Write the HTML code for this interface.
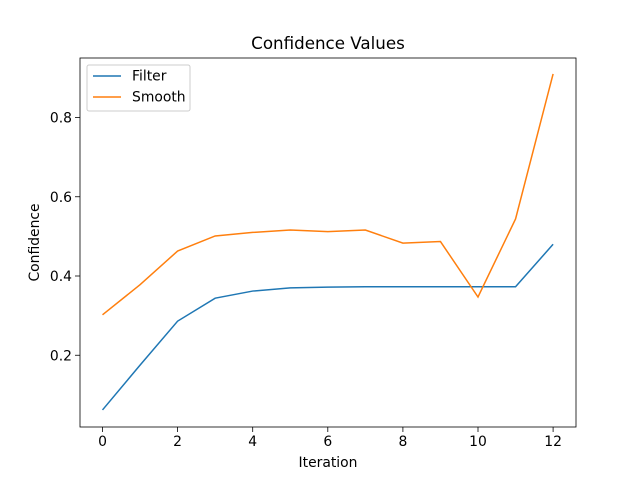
<!DOCTYPE html>
<html><head><meta charset="utf-8"><style>
body{margin:0;background:#fff;}
svg text{font-family:"DejaVu Sans","Liberation Sans",sans-serif;fill:#000;}
</style></head><body>
<svg id="chart" width="640" height="480" xmlns="http://www.w3.org/2000/svg">
<rect width="640" height="480" fill="#fff"/>
<text x="328" y="49" font-size="16.7" text-anchor="middle">Confidence Values</text>
<text x="328" y="467" font-size="13.9" text-anchor="middle">Iteration</text>
<text x="0" y="0" font-size="13.9" text-anchor="middle" transform="translate(39,242.5) rotate(-90)">Confidence</text>
<g id="ticks"></g>
<g id="lines"></g>
<rect x="80" y="58" width="496" height="369" fill="none" stroke="#000" stroke-width="0.8"/>
<g>
<rect x="87" y="65" width="103" height="46" rx="2" fill="#fff" fill-opacity="0.8" stroke="#ccc" stroke-width="1"/>
<line x1="93" y1="76" x2="121" y2="76" stroke="#1f77b4" stroke-width="1.5"/>
<text x="132" y="80.5" font-size="13.9">Filter</text>
<line x1="93" y1="97" x2="121" y2="97" stroke="#ff7f0e" stroke-width="1.5"/>
<text x="132" y="101.5" font-size="13.9">Smooth</text>
</g>
</svg>
<script>
const iterations=[0,1,2,3,4,5,6,7,8,9,10,11,12];
const filterValues=[0.062,0.175,0.286,0.344,0.362,0.37,0.372,0.373,0.373,0.373,0.373,0.373,0.48];
const smoothValues=[0.302,0.378,0.463,0.501,0.51,0.516,0.512,0.516,0.483,0.487,0.347,0.544,0.91];
const xTicks=[0,2,4,6,8,10,12];
const yTicks=[0.2,0.4,0.6,0.8];
const NS="http://www.w3.org/2000/svg";
function xs(v){return 102.5+v*37.55;}
function ys(v){return 434.5-v*396.25;}
const tg=document.getElementById('ticks');
xTicks.forEach(t=>{
 const l=document.createElementNS(NS,'line');
 l.setAttribute('x1',xs(t));l.setAttribute('x2',xs(t));l.setAttribute('y1',427);l.setAttribute('y2',432);
 l.setAttribute('stroke','#000');l.setAttribute('stroke-width','0.8');
 
 
 tg.appendChild(l);
 const tx=document.createElementNS(NS,'text');
 tx.setAttribute('x',xs(t));tx.setAttribute('y',446);tx.setAttribute('font-size','13.9');tx.setAttribute('text-anchor','middle');
 tx.textContent=t;
 
 
 tg.appendChild(tx);
});
yTicks.forEach(t=>{
 const l=document.createElementNS(NS,'line');
 l.setAttribute('x1',75);l.setAttribute('x2',80);l.setAttribute('y1',ys(t));l.setAttribute('y2',ys(t));
 l.setAttribute('stroke','#000');l.setAttribute('stroke-width','0.8');
 
 
 tg.appendChild(l);
 const tx=document.createElementNS(NS,'text');
 tx.setAttribute('x',72);tx.setAttribute('y',ys(t)+5);tx.setAttribute('font-size','13.9');tx.setAttribute('text-anchor','end');
 tx.textContent=t.toFixed(1);
 
 
 tg.appendChild(tx);
});
const lg=document.getElementById('lines');
function drawLine(vals,color,name){
 const p=document.createElementNS(NS,'polyline');
 p.setAttribute('points',vals.map((v,i)=>xs(iterations[i])+','+ys(v)).join(' '));
 p.setAttribute('fill','none');p.setAttribute('stroke',color);p.setAttribute('stroke-width','1.5');
 
 
 lg.appendChild(p);
}
drawLine(filterValues,'#1f77b4','filter-line');
drawLine(smoothValues,'#ff7f0e','smooth-line');
</script>
</body></html>
